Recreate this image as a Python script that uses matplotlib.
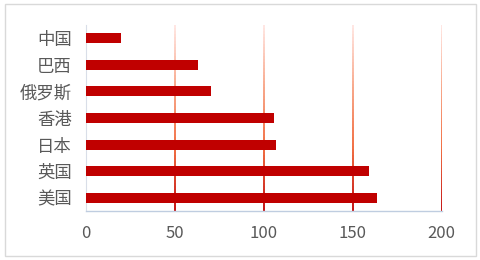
import matplotlib
matplotlib.use('Agg')
import matplotlib.pyplot as plt
from matplotlib.collections import LineCollection
from matplotlib.colors import LinearSegmentedColormap
from matplotlib.patches import Rectangle
import numpy as np

plt.rcParams['font.family'] = ['Noto Sans CJK SC', 'DejaVu Sans']

countries = ['中国', '巴西', '俄罗斯', '香港', '日本', '英国', '美国']
values = [20, 63, 70.5, 106, 107, 159, 164]
xticks = [0, 50, 100, 150, 200]

fig = plt.figure(figsize=(4.81, 2.6), dpi=100)
ax = fig.add_axes([85.5 / 481, 1 - 211 / 260, 356 / 481, 186 / 260])

# chart border
fig.patches.append(Rectangle((5 / 481, 4 / 260), 471 / 481, 252 / 260,
                             transform=fig.transFigure, fill=False,
                             edgecolor='#D9D9D9', linewidth=1))

y = np.arange(len(countries))[::-1]
ax.barh(y, values, height=0.38, color='#C00000', zorder=3)

ax.set_xlim(0, 200)
ax.set_ylim(-0.5, len(countries) - 0.5)

# gradient gridlines: pale at top, red at bottom
cmap = LinearSegmentedColormap.from_list('grid', ['#FFE4E0', '#F8A080', '#F06030', '#C00000'])
n = 60
ys = np.linspace(len(countries) - 0.5, -0.5, n + 1)
for xv in xticks[1:]:
    segs = [[(xv, ys[i]), (xv, ys[i + 1])] for i in range(n)]
    lc = LineCollection(segs, colors=cmap(np.linspace(0, 1, n)), linewidths=1.3, zorder=1)
    ax.add_collection(lc)

ax.set_xticks(xticks)
ax.set_xticklabels([str(v) for v in xticks], fontsize=12, color='#595959')
ax.set_yticks(y)
ax.set_yticklabels(countries, fontsize=12.5, color='#595959')
ax.tick_params(length=0)
ax.tick_params(axis='x', pad=10)
ax.tick_params(axis='y', pad=10)

for s in ['top', 'right']:
    ax.spines[s].set_visible(False)
ax.spines['bottom'].set_color('#BFCDE0')
ax.spines['left'].set_color('#D9DEE8')
ax.spines['bottom'].set_linewidth(1)
ax.spines['left'].set_linewidth(0.8)

fig.savefig('out.png', dpi=100)
